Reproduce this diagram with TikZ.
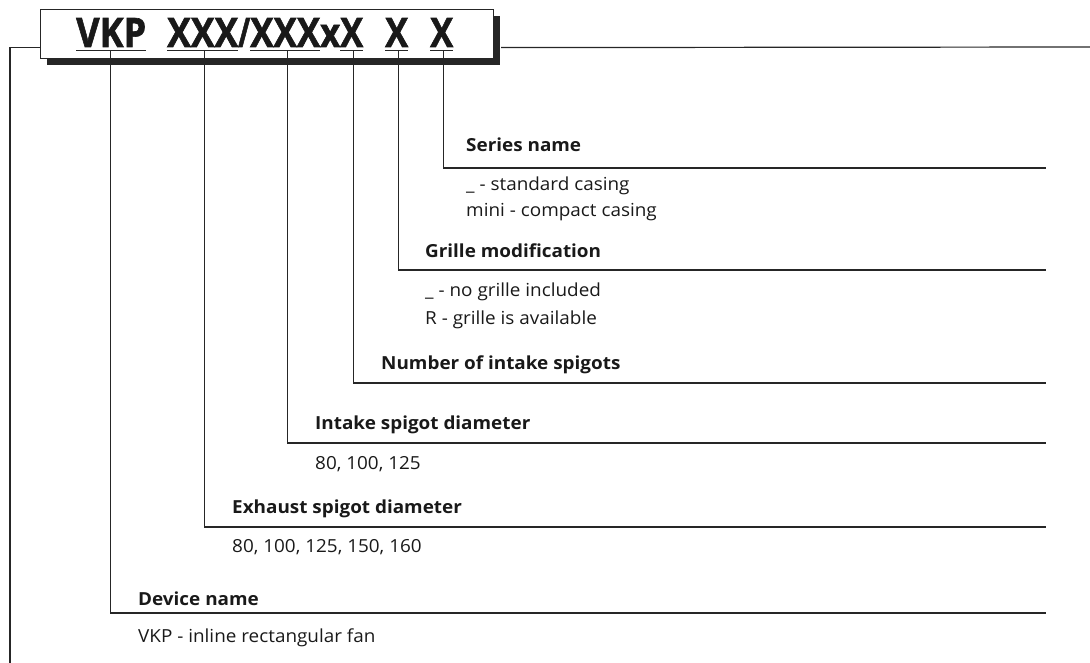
\documentclass[tikz,border=0pt]{standalone}
\usepackage{fontspec}
\setmainfont[FakeStretch=1.05]{Open Sans}
\newfontfamily\titlefont[FakeBold=1.5]{Open Sans}
\usepackage{graphicx}
\usetikzlibrary{shadows}
\tikzset{
  conn/.style={draw=black!85, line width=1.2pt},
  ul/.style={draw=black!85, line width=1.6pt},
  tt/.style={inner sep=0pt, anchor=base west, text=black!90, font=\titlefont\bfseries},
  lab/.style={inner sep=0pt, anchor=base west, text=black!90, font=\fontsize{18}{21}\selectfont\bfseries},
  txt/.style={inner sep=0pt, anchor=base west, text=black!90, font=\fontsize{18}{21}\selectfont, align=left},
  titlebox/.style={draw=black!85, line width=1.2pt, fill=white, minimum width=453pt, minimum height=49pt, anchor=north west, inner sep=0pt,
    drop shadow={shadow xshift=6pt, shadow yshift=-6pt, fill=black!85, opacity=1}}
}
\begin{document}
\begin{tikzpicture}[x=1pt,y=-1pt]
\useasboundingbox (0,0) rectangle (1090,663);
% title box
\node[titlebox] (box) at (40,9) {};
\node[tt] (t1) at (76,47) {\resizebox{70pt}{29pt}{VKP}};
\node[tt] (t2) at (167,47) {\resizebox{71pt}{29pt}{XXX}};
\node[tt] (sl) at (238,47) {\resizebox{12pt}{29pt}{\raisebox{\depth}{/}}};
\node[tt] (t3) at (250,47) {\resizebox{70pt}{29pt}{XXX}};
\node[tt] (tx) at (320,47) {\resizebox{20pt}{22pt}{x}};
\node[tt] (t4) at (340,47) {\resizebox{23pt}{29pt}{X}};
\node[tt] (t5) at (385,47) {\resizebox{23pt}{29pt}{X}};
\node[tt] (t6) at (430,47) {\resizebox{23pt}{29pt}{X}};
\foreach \n in {t1,t2,t3,t4,t5,t6}{
  \draw[ul] ([yshift=-3.5pt]\n.south west) -- ([yshift=-3.5pt]\n.south east);
}
% end points of rows
\coordinate (e1) at (1046,168);
\coordinate (e2) at (1046,270);
\coordinate (e3) at (1046,383);
\coordinate (e4) at (1046,443);
\coordinate (e5) at (1046,527);
\coordinate (e6) at (1046,613);
\coordinate (lb) at (10,663);
\coordinate (rt) at (1090,47);
% connectors
\draw[conn] ([xshift=-0.5pt,yshift=-3.5pt]t1.south) |- (e6);
\draw[conn] ([xshift=1.5pt,yshift=-3.5pt]t2.south) |- (e5);
\draw[conn] ([xshift=2pt,yshift=-3.5pt]t3.south) |- (e4);
\draw[conn] ([xshift=1.5pt,yshift=-3.5pt]t4.south) |- (e3);
\draw[conn] ([xshift=1.5pt,yshift=-3.5pt]t5.south) |- (e2);
\draw[conn] ([xshift=1.5pt,yshift=-3.5pt]t6.south) |- (e1);
\draw[conn] ([yshift=-13.5pt]box.west) -| (lb);
\draw[conn] ([xshift=7pt,yshift=-13.5pt]box.east) -- (rt);
% labels
\node[lab] (l1) at (466,152) {Series name};
\node[txt] (d1a) at (466,191) {\_ - standard casing};
\node[txt] (d1b) at (466,217) {mini - compact casing};
\node[lab] (l2) at (425,258) {Grille modification};
\node[txt] (d2a) at (425,297) {\_ - no grille included};
\node[txt] (d2b) at (425,324) {R - grille is available};
\node[lab] (l3) at (381,369) {Number of intake spigots};
\node[lab] (l4) at (315,429) {Intake spigot diameter};
\node[txt] (d4) at (315,469) {80, 100, 125};
\node[lab] (l5) at (232,513) {Exhaust spigot diameter};
\node[txt] (d5) at (232,552) {80, 100, 125, 150, 160};
\node[lab] (l6) at (138,605) {Device name};
\node[txt] (d6) at (138,642) {VKP - inline rectangular fan};
\end{tikzpicture}
\end{document}
